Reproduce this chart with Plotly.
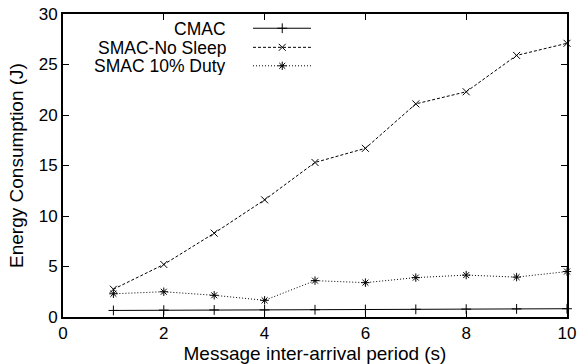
import plotly.graph_objects as go

x_vals = [1, 2, 3, 4, 5, 6, 7, 8, 9, 10]
cmac = [0.65, 0.68, 0.70, 0.70, 0.72, 0.74, 0.76, 0.78, 0.80, 0.82]
smac_nosleep = [2.75, 5.2, 8.3, 11.6, 15.3, 16.7, 21.1, 22.3, 25.9, 27.1]
smac_duty = [2.3, 2.5, 2.15, 1.65, 3.6, 3.4, 3.9, 4.15, 3.95, 4.5]

names = ["CMAC", "SMAC-No Sleep", "SMAC 10% Duty"]
series = [cmac, smac_nosleep, smac_duty]
dashes = ["solid", "3px,2px", "1px,2px"]
symbols = ["cross-thin-open", "x-thin-open", "asterisk-open"]

FONT = "Liberation Sans, Arial, sans-serif"
fig = go.Figure()

for name, ys, d, s in zip(names, series, dashes, symbols):
    fig.add_trace(go.Scatter(
        x=x_vals, y=ys, mode="lines+markers", name=name,
        line=dict(color="black", width=1, dash=d),
        marker=dict(symbol=s, size=7, color="black", line=dict(color="black", width=1)),
        showlegend=False, cliponaxis=False,
    ))

# gnuplot-style key: text right-aligned, sample to the right (in overlay axes spanning the plot area)
key_y = [0.953, 0.890, 0.829]
for name, d, s, ky in zip(names, dashes, symbols, key_y):
    fig.add_trace(go.Scatter(
        x=[0.377, 0.435, 0.492], y=[ky, ky, ky], mode="lines", xaxis="x2", yaxis="y2",
        line=dict(color="black", width=1, dash=d), showlegend=False, hoverinfo="skip",
    ))
    fig.add_trace(go.Scatter(
        x=[0.435], y=[ky], mode="markers", xaxis="x2", yaxis="y2",
        marker=dict(symbol=s, size=7, color="black", line=dict(color="black", width=1)),
        showlegend=False, hoverinfo="skip",
    ))
    fig.add_annotation(x=0.325, y=ky, xref="paper", yref="paper", text=name,
                       showarrow=False, xanchor="right", yanchor="middle",
                       font=dict(family=FONT, size=17.5, color="black"),
                       height=19, borderpad=0, valign="middle")

axis_common = dict(
    showgrid=False, zeroline=False, showline=True, linecolor="black", linewidth=2,
    mirror="ticks", ticks="inside", ticklen=6, tickcolor="black", tickwidth=1,
    tickfont=dict(family=FONT, size=17, color="black"), automargin=False,
)

fig.update_layout(
    width=579, height=364,
    margin=dict(l=63, r=12, t=14, b=47),
    paper_bgcolor="white", plot_bgcolor="white",
    xaxis=dict(range=[0, 10], dtick=2, tick0=0,
               title=dict(text="Message inter-arrival period (s)", standoff=5,
                          font=dict(family=FONT, size=19, color="black")),
               **axis_common),
    yaxis=dict(range=[0, 30], dtick=5, tick0=0,
               title=dict(text="Energy Consumption (J)", standoff=10,
                          font=dict(family=FONT, size=19, color="black")),
               **axis_common),
    xaxis2=dict(domain=[0, 1], range=[0, 1], overlaying="x", visible=False, anchor="y2"),
    yaxis2=dict(domain=[0, 1], range=[0, 1], overlaying="y", visible=False, anchor="x2"),
    showlegend=False,
)

fig.write_html("out.html")
